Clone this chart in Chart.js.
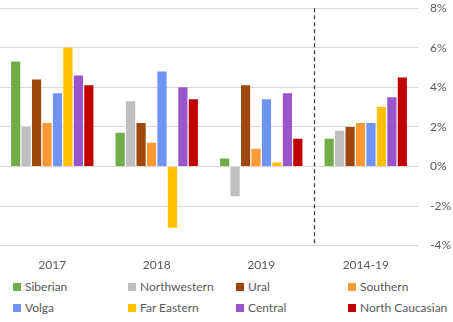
<!DOCTYPE html>
<html>
<head>
<meta charset="utf-8">
<script src="https://cdn.jsdelivr.net/npm/chart.js@4"></script>
<style>
body { margin: 0; background: #fff; font-family: Lato, "Liberation Sans", sans-serif; overflow: hidden; }
#wrap { position: absolute; left: 0; top: -11px; width: 453px; height: 287px; }
#legend { position: absolute; left: 0; top: 280px; width: 453px; }
.item { position: absolute; font-size: 12px; color: #595959; white-space: nowrap; line-height: 14px; }
.item span { display: inline-block; width: 8px; height: 8px; margin-right: 4px; vertical-align: 0px; }
</style>
</head>
<body>
<div id="wrap"><canvas id="myChart"></canvas></div>
<div id="legend"></div>
<script>
var years = ["2017", "2018", "2019", "2014-19"]
var regions = ["Siberian", "Northwestern", "Ural", "Southern", "Volga", "Far Eastern", "Central", "North Caucasian"]
var regionColor = ["#70AD47", "#BFBFBF", "#9E480E", "#FF9933", "#7094F5", "#FFC000", "#9955CC", "#C00000"]

// growth, % per year
var siberian = [5.3, 1.7, 0.4, 1.4]
var northwestern = [2.0, 3.3, -1.5, 1.8]
var ural = [4.4, 2.2, 4.1, 2.0]
var southern = [2.2, 1.2, 0.9, 2.2]
var volga = [3.7, 4.8, 3.4, 2.2]
var farEastern = [6.0, -3.1, 0.2, 3.0]
var central = [4.6, 4.0, 3.7, 3.5]
var northCaucasian = [4.1, 3.4, 1.4, 4.5]
var allValues = [siberian, northwestern, ural, southern, volga, farEastern, central, northCaucasian]

var yMin = -4, yMax = 8, yStep = 2

var sets = []
for (var i = 0; i < regions.length; i++) {
  sets.push({
    label: regions[i],
    data: allValues[i],
    backgroundColor: regionColor[i],
    categoryPercentage: 0.8,
    barPercentage: 0.88
  })
}

// dashed separator before the last group
var splitLine = {
  id: "splitLine",
  afterDatasetsDraw: function(chart) {
    var x = chart.scales.x
    var y = chart.scales.y
    var px = (x.getPixelForValue(2) + x.getPixelForValue(3)) / 2
    var ctx = chart.ctx
    ctx.save()
    ctx.strokeStyle = "#404040"
    ctx.lineWidth = 1.3
    ctx.setLineDash([4, 3])
    ctx.beginPath()
    ctx.moveTo(Math.round(px) + 0.5, y.getPixelForValue(yMax))
    ctx.lineTo(Math.round(px) + 0.5, y.getPixelForValue(yMin))
    ctx.stroke()
    ctx.restore()
  }
}

new Chart("myChart", {
  type: "bar",
  data: { labels: years, datasets: sets },
  plugins: [splitLine],
  options: {
    responsive: true,
    maintainAspectRatio: false,
    animation: false,
    layout: { padding: { top: 2, left: 0, right: 0, bottom: 0 } },
    plugins: { legend: { display: false }, tooltip: { enabled: false } },
    scales: {
      x: {
        grid: { display: false },
        border: { display: false },
        ticks: { color: "#595959", font: { family: "Lato", size: 12 }, padding: 4 }
      },
      y: {
        position: "right",
        min: yMin,
        max: yMax,
        grid: { color: "#D9D9D9", drawTicks: false },
        border: { display: false },
        ticks: {
          stepSize: yStep,
          padding: 12,
          color: "#595959",
          font: { family: "Lato", size: 12 },
          callback: function(v) { return v + "%" }
        },
        afterFit: function(axis) { axis.width = 35 }
      }
    }
  }
})

var cols = [13, 128, 236, 348]
var legend = document.getElementById("legend")
for (var j = 0; j < regions.length; j++) {
  var d = document.createElement("div")
  d.className = "item"
  d.style.left = cols[j % 4] + "px"
  d.style.top = (Math.floor(j / 4) * 21) + "px"
  d.innerHTML = '<span style="background:' + regionColor[j] + '"></span>' + regions[j]
  legend.appendChild(d)
}
</script>
</body>
</html>
